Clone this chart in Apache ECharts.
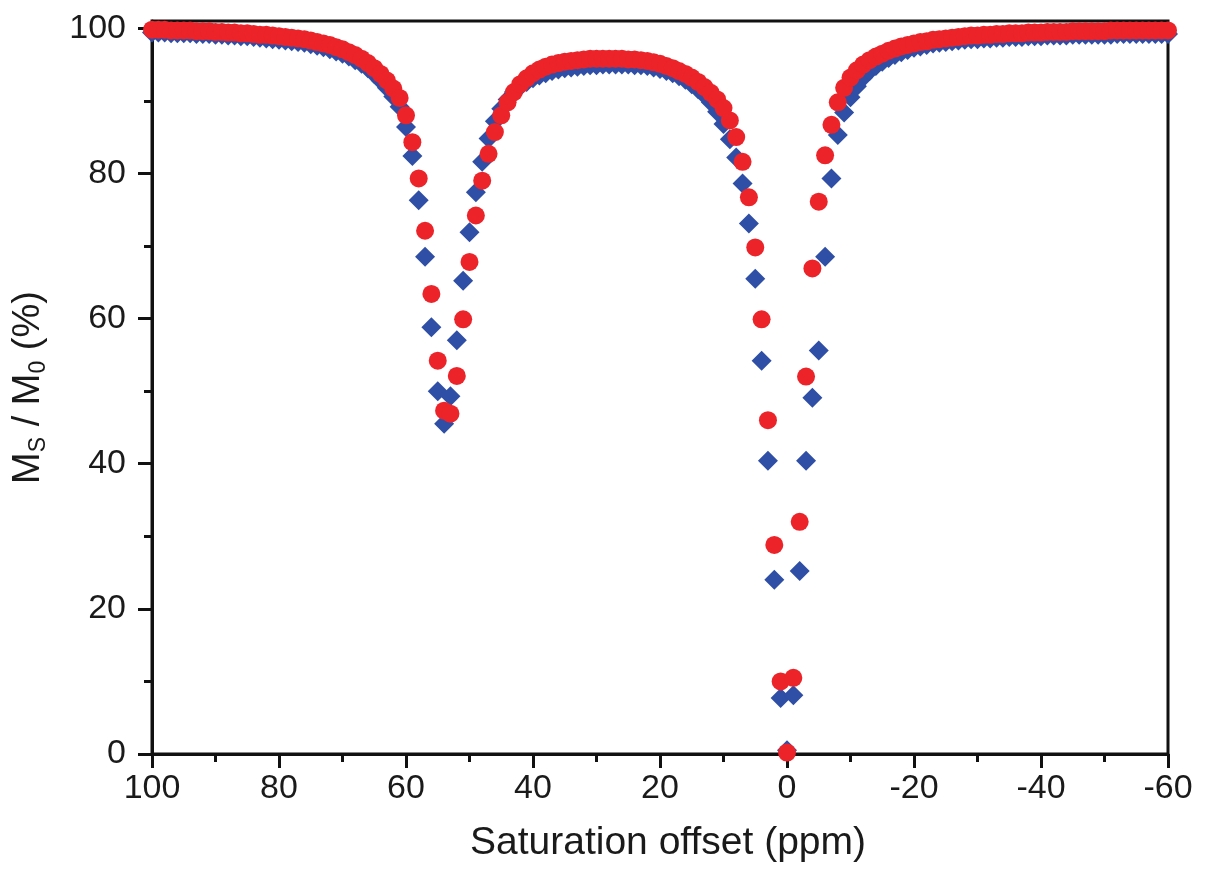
<!DOCTYPE html>
<html>
<head>
<meta charset="utf-8">
<script src="https://cdn.jsdelivr.net/npm/echarts@6/dist/echarts.min.js"></script>
<style>
html,body{margin:0;padding:0;background:#fff;}
#chart{width:1205px;height:878px;}
</style>
</head>
<body>
<div id="chart"></div>
<script>
// Saturation offsets (ppm), one sample per ppm from 100 down to -60
const offsets = [
 100,99,98,97,96,95,94,93,92,91,90,89,88,87,86,85,84,83,82,81,
 80,79,78,77,76,75,74,73,72,71,70,69,68,67,66,65,64,63,62,61,
 60,59,58,57,56,55,54,53,52,51,50,49,48,47,46,45,44,43,42,41,
 40,39,38,37,36,35,34,33,32,31,30,29,28,27,26,25,24,23,22,21,
 20,19,18,17,16,15,14,13,12,11,10,9,8,7,6,5,4,3,2,1,
 0,-1,-2,-3,-4,-5,-6,-7,-8,-9,-10,-11,-12,-13,-14,-15,-16,-17,-18,-19,
 -20,-21,-22,-23,-24,-25,-26,-27,-28,-29,-30,-31,-32,-33,-34,-35,-36,-37,-38,-39,
 -40,-41,-42,-43,-44,-45,-46,-47,-48,-49,-50,-51,-52,-53,-54,-55,-56,-57,-58,-59,-60
];

// Blue diamonds, Ms/M0 (%)
const blueValues = [
 99.4,99.4,99.4,99.3,99.3,99.3,99.3,99.2,99.2,99.2,99.1,99.1,99.0,99.0,98.9,98.9,98.8,98.7,98.6,98.5,
 98.4,98.3,98.2,98.1,98.0,97.8,97.6,97.4,97.1,96.8,96.5,96.1,95.6,95.1,94.5,93.7,92.8,91.8,90.6,89.2,
 86.4,82.4,76.3,68.5,58.8,50.0,45.5,49.3,57.0,65.2,71.9,77.4,81.6,84.8,87.2,88.9,90.2,91.2,92.0,92.6,
 93.1,93.5,93.8,94.1,94.3,94.5,94.6,94.7,94.8,94.9,94.9,95.0,95.0,95.0,95.0,95.0,94.9,94.9,94.8,94.6,
 94.4,94.1,93.8,93.4,92.9,92.3,91.6,90.8,89.8,88.5,86.8,84.7,82.2,78.6,73.1,65.5,54.2,40.4,24.0,7.7,
 0.5,8.1,25.2,40.4,49.1,55.6,68.5,79.3,85.3,88.4,90.5,92.0,93.2,94.1,94.8,95.4,95.9,96.3,96.7,97.0,
 97.3,97.5,97.7,97.9,98.0,98.1,98.2,98.3,98.4,98.5,98.5,98.6,98.6,98.7,98.7,98.8,98.8,98.8,98.9,98.9,
 98.9,99.0,99.0,99.0,99.0,99.1,99.1,99.1,99.1,99.1,99.1,99.1,99.2,99.2,99.2,99.2,99.2,99.2,99.2,99.2,99.2
];

// Red circles, Ms/M0 (%)
const redValues = [
 99.8,99.8,99.8,99.7,99.7,99.7,99.7,99.6,99.6,99.6,99.5,99.5,99.4,99.4,99.3,99.3,99.2,99.1,99.1,99.0,
 98.9,98.8,98.7,98.6,98.5,98.3,98.1,97.9,97.7,97.4,97.1,96.7,96.3,95.8,95.2,94.5,93.7,92.8,91.7,90.4,
 88.0,84.3,79.3,72.1,63.4,54.2,47.3,46.9,52.1,59.9,67.8,74.2,79.0,82.7,85.7,88.0,89.8,91.2,92.3,93.1,
 93.8,94.3,94.7,95.0,95.2,95.4,95.5,95.6,95.7,95.8,95.8,95.8,95.8,95.8,95.8,95.7,95.7,95.6,95.5,95.3,
 95.1,94.8,94.5,94.1,93.7,93.2,92.6,91.9,91.1,90.2,89.0,87.3,85.0,81.6,76.7,69.8,59.9,46.0,28.8,10.0,
 0.2,10.5,32.0,52.0,66.9,76.1,82.5,86.7,89.8,91.8,93.2,94.2,95.0,95.6,96.1,96.5,96.9,97.2,97.5,97.7,
 97.9,98.1,98.2,98.4,98.5,98.6,98.7,98.8,98.9,99.0,99.0,99.1,99.1,99.2,99.2,99.3,99.3,99.3,99.4,99.4,
 99.4,99.5,99.5,99.5,99.5,99.6,99.6,99.6,99.6,99.6,99.6,99.7,99.7,99.7,99.7,99.7,99.7,99.7,99.7,99.7,99.7
];

const xMajorTicks = [100,80,60,40,20,0,-20,-40,-60];
const xMinorTicks = [90,70,50,30,10,-10,-30,-50];
const yMajorTicks = [0,20,40,60,80,100];
const yMinorTicks = [10,30,50,70,90];

const FONT = '"Liberation Sans", Arial, Helvetica, sans-serif';
const blueData = offsets.map((x,i)=>[x, blueValues[i]]);
const redData = offsets.map((x,i)=>[x, redValues[i]]);

const chart = echarts.init(document.getElementById('chart'), null, {renderer:'canvas'});
const axisLineStyle = {color:'#111', width:3};
chart.setOption({
  animation:false,
  backgroundColor:'#fff',
  grid:{left:152, right:37, top:21, bottom:124, show:true, borderColor:'#111', borderWidth:3, backgroundColor:'transparent'},
  xAxis:[
    {type:'value', min:-60, max:100, inverse:true, interval:20,
     axisLine:{show:true, onZero:false, lineStyle:axisLineStyle},
     axisTick:{show:true, inside:false, length:14, lineStyle:{color:'#111', width:3}, customValues:xMajorTicks},
     axisLabel:{show:true, margin:18, fontSize:34, color:'#1a1a1a', fontFamily:FONT, customValues:xMajorTicks},
     splitLine:{show:false},
     name:'Saturation offset (ppm)', nameLocation:'middle', nameGap:70,
     nameTextStyle:{fontSize:39, color:'#1a1a1a', fontFamily:FONT, padding:[0,0,0,16]}},
    {type:'value', min:-60, max:100, inverse:true, interval:10, position:'bottom', gridIndex:0,
     axisLine:{show:false, onZero:false},
     axisTick:{show:true, inside:false, length:8, lineStyle:{color:'#111', width:3}, customValues:xMinorTicks},
     axisLabel:{show:false}, splitLine:{show:false}}
  ],
  yAxis:[
    {type:'value', min:0, max:101,
     axisLine:{show:true, onZero:false, lineStyle:axisLineStyle},
     axisTick:{show:true, inside:false, length:14, lineStyle:{color:'#111', width:3}, customValues:yMajorTicks},
     axisLabel:{show:true, margin:26, fontSize:34, color:'#1a1a1a', fontFamily:FONT, customValues:yMajorTicks},
     splitLine:{show:false},
     name:'{m|M}{s|S}{m| / M}{s|0}{m| (%)}', nameLocation:'middle', nameGap:102, nameRotate:90,
     nameTextStyle:{fontFamily:FONT, color:'#1a1a1a',
       rich:{
         m:{fontSize:38, lineHeight:42, fontFamily:FONT, color:'#1a1a1a'},
         s:{fontSize:23, lineHeight:19, verticalAlign:'bottom', fontFamily:FONT, color:'#1a1a1a'}
       }}},
    {type:'value', min:0, max:101, position:'left',
     axisLine:{show:false, onZero:false},
     axisTick:{show:true, inside:false, length:8, lineStyle:{color:'#111', width:3}, customValues:yMinorTicks},
     axisLabel:{show:false}, splitLine:{show:false}}
  ],
  series:[
    {type:'scatter', name:'blue', xAxisIndex:0, yAxisIndex:0, data:blueData,
     symbol:'diamond', symbolSize:20, itemStyle:{color:'#2f4fa6', opacity:1}},
    {type:'scatter', name:'red', xAxisIndex:0, yAxisIndex:0, data:redData,
     symbol:'circle', symbolSize:18, itemStyle:{color:'#ec2329', opacity:1}}
  ]
});
</script>
</body>
</html>
